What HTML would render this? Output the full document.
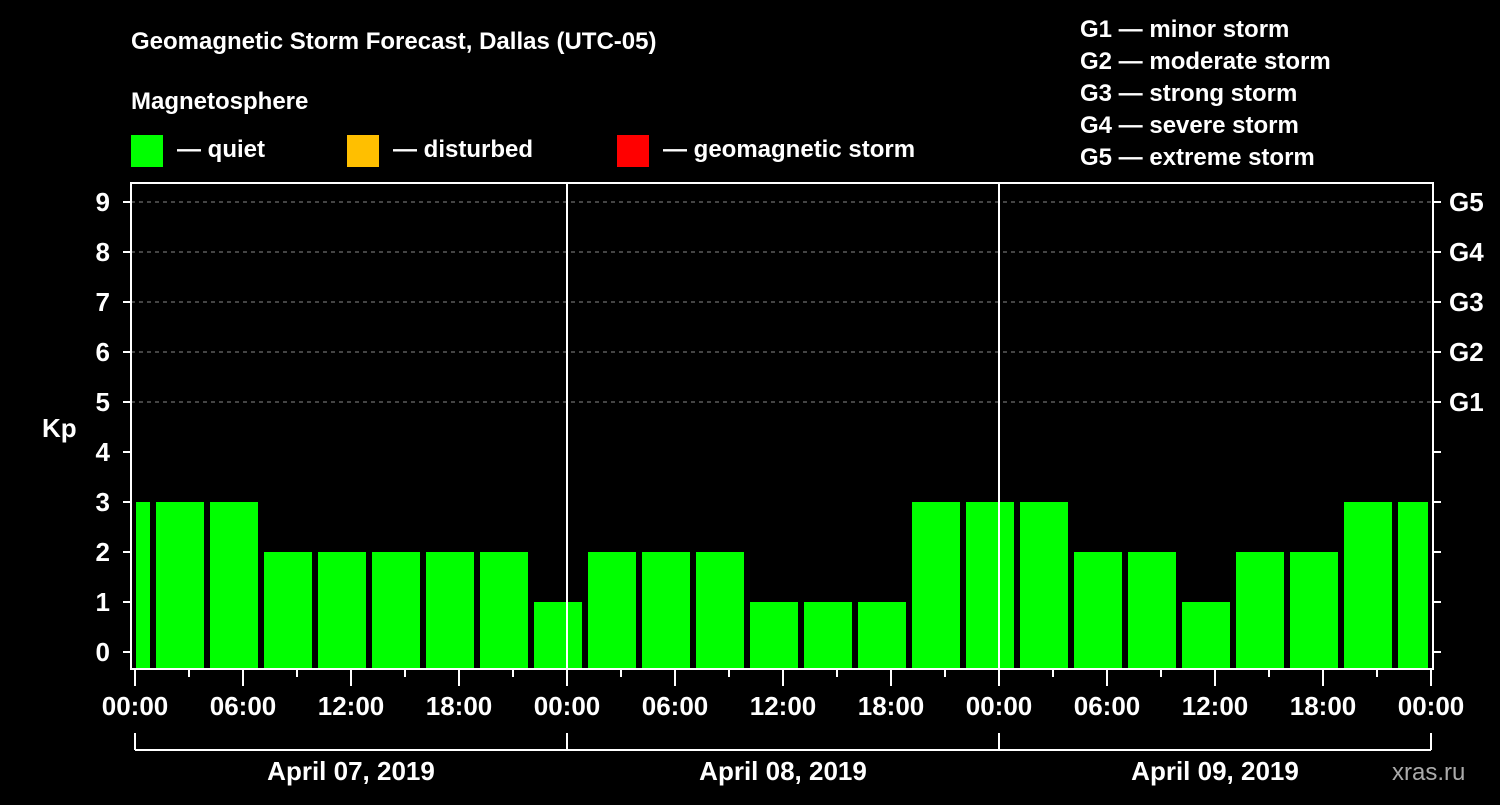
<!DOCTYPE html>
<html><head><meta charset="utf-8"><style>
body{margin:0;background:#000;width:1500px;height:800px;overflow:hidden}
svg text{font-family:"Liberation Sans",Arial,sans-serif;font-weight:bold;fill:#fff}
</style></head><body>
<svg id="chart" width="1500" height="800" xmlns="http://www.w3.org/2000/svg">
<rect width="1500" height="800" fill="#000"/>
<text x="131" y="49" font-size="24">Geomagnetic Storm Forecast, Dallas (UTC-05)</text>
<text x="131" y="109" font-size="24">Magnetosphere</text>
<g>
<rect x="131" y="135" width="32" height="32" fill="#00ff00"/>
<text x="177" y="157" font-size="24">— quiet</text>
<rect x="347" y="135" width="32" height="32" fill="#ffbf00"/>
<text x="393" y="157" font-size="24">— disturbed</text>
<rect x="617" y="135" width="32" height="32" fill="#ff0000"/>
<text x="663" y="157" font-size="24">— geomagnetic storm</text>
</g>
<g font-size="24">
<text x="1080" y="37">G1 — minor storm</text>
<text x="1080" y="69">G2 — moderate storm</text>
<text x="1080" y="101">G3 — strong storm</text>
<text x="1080" y="133">G4 — severe storm</text>
<text x="1080" y="165">G5 — extreme storm</text>
</g>
<text x="42" y="437" font-size="26">Kp</text>
<text x="1392" y="780" font-size="24" fill="#aaa" style="fill:#aaa;font-weight:normal">xras.ru</text>
<g id="grid"></g><g id="bars"></g><g id="axes"></g>
</svg>
<script>
const kpValues=[3,3,3,2,2,2,2,2,1,2,2,2,1,1,1,3,3,3,2,2,1,2,2,3,3];
const kpTicks=["0","1","2","3","4","5","6","7","8","9"];
const gLabels=["G1","G2","G3","G4","G5"];
const timeLabels=["00:00","06:00","12:00","18:00"];
const dayLabels=["April 07, 2019","April 08, 2019","April 09, 2019"];
const blockStartHour=-2, blockHours=3, totalHours=72;
const NS="http://www.w3.org/2000/svg";
const X0=135,X1=1431,Y0=652,PY=50,TOP=183,BOT=669;
const xs=h=>X0+(X1-X0)*h/totalHours;
const ys=v=>Y0-v*PY;
function mk(p,t,a){const e=document.createElementNS(NS,t);for(const k in a)e.setAttribute(k,a[k]);p.appendChild(e);return e;}
const grid=document.getElementById('grid'),bars=document.getElementById('bars'),axes=document.getElementById('axes');
for(let v=5;v<=9;v++){const l=mk(grid,'line',{x1:131,x2:1433,y1:ys(v),y2:ys(v),stroke:'#888','stroke-dasharray':'4,4','stroke-width':1});

}
kpValues.forEach((v,i)=>{let h0=blockStartHour+i*blockHours,h1=h0+blockHours;
let a=Math.max(xs(h0)+3,xs(0)+1),b=Math.min(xs(h1)-3,xs(totalHours)-3);
const r=mk(bars,'rect',{x:a,y:ys(v),width:b-a,height:BOT-1-ys(v),fill:'#00ff00'});

});
for(let d=1;d<dayLabels.length;d++){const l=mk(axes,'line',{x1:xs(d*24),x2:xs(d*24),y1:TOP,y2:BOT,stroke:'#fff','stroke-width':2});

}
const fr=mk(axes,'rect',{x:131,y:TOP,width:1302,height:BOT-TOP,fill:'none',stroke:'#fff','stroke-width':2});


kpTicks.forEach((t,i)=>{mk(axes,'line',{x1:123,x2:131,y1:ys(i),y2:ys(i),stroke:'#fff','stroke-width':2});
mk(axes,'line',{x1:1433,x2:1441,y1:ys(i),y2:ys(i),stroke:'#fff','stroke-width':2});
const tx=mk(axes,'text',{x:110,y:ys(i)+9,'font-size':26,'text-anchor':'end'});tx.textContent=t;

});
gLabels.forEach((g,i)=>{const tx=mk(axes,'text',{x:1449,y:ys(i+5)+9,'font-size':26});tx.textContent=g;

});
for(let h=0;h<=totalHours;h+=3){const major=h%6===0;
mk(axes,'line',{x1:xs(h),x2:xs(h),y1:BOT,y2:major?686:677,stroke:'#fff','stroke-width':2});
if(major){const tx=mk(axes,'text',{x:xs(h),y:715,'font-size':26,'text-anchor':'middle'});tx.textContent=timeLabels[(h%24)/6];

}}
mk(axes,'line',{x1:xs(0),x2:xs(totalHours),y1:750,y2:750,stroke:'#fff','stroke-width':2});
for(let d=0;d<=dayLabels.length;d++)mk(axes,'line',{x1:xs(d*24),x2:xs(d*24),y1:733,y2:750,stroke:'#fff','stroke-width':2});
dayLabels.forEach((t,d)=>{const tx=mk(axes,'text',{x:xs(d*24+12),y:780,'font-size':26,'text-anchor':'middle'});tx.textContent=t;

});
</script>
</body></html>
